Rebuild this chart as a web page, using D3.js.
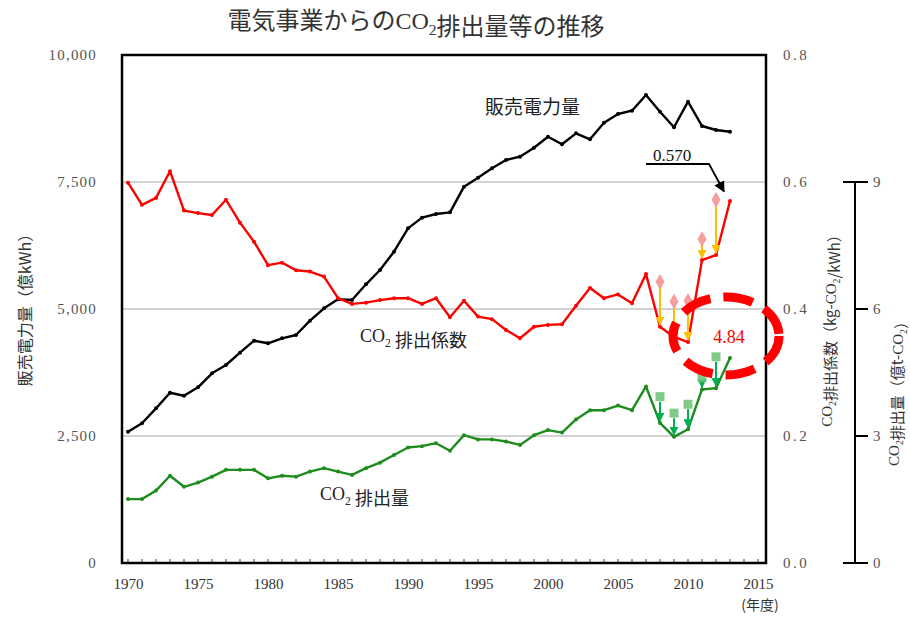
<!DOCTYPE html>
<html>
<head>
<meta charset="utf-8">
<script src="https://cdn.jsdelivr.net/npm/d3@7"></script>
<style>
  body { margin: 0; background: #fff; }
  text { font-family: "Liberation Serif", serif; }
  .jp { font-family: "Noto Sans CJK JP", sans-serif; }
</style>
</head>
<body>
<div id="chart"></div>
<script>
// data
var years = d3.range(1970, 2014);
var sales = [2585, 2750, 3045, 3352, 3293, 3459, 3734, 3898, 4140, 4376,
    4325, 4423, 4488, 4770, 5014, 5191, 5177, 5486, 5768, 6128,
    6588, 6798, 6870, 6903, 7408, 7585, 7770, 7933, 7998, 8175,
    8392, 8242, 8458, 8340, 8667, 8838, 8904, 9213, 8884, 8577,
    9081, 8602, 8524, 8490];
var coef = [0.599, 0.564, 0.575, 0.617, 0.555, 0.551, 0.548, 0.572, 0.536, 0.506,
    0.469, 0.473, 0.461, 0.459, 0.451, 0.417, 0.408, 0.410, 0.414, 0.417,
    0.417, 0.408, 0.417, 0.387, 0.413, 0.388, 0.384, 0.367, 0.354, 0.372,
    0.375, 0.376, 0.405, 0.433, 0.417, 0.423, 0.409, 0.455, 0.372, 0.356,
    0.348, 0.477, 0.485, 0.570];
var emis = [1.51, 1.51, 1.71, 2.06, 1.80, 1.90, 2.04, 2.20, 2.20, 2.20,
    2.00, 2.06, 2.04, 2.16, 2.24, 2.16, 2.08, 2.24, 2.37, 2.55,
    2.73, 2.76, 2.83, 2.65, 3.02, 2.92, 2.92, 2.87, 2.79, 3.02,
    3.14, 3.08, 3.39, 3.61, 3.61, 3.72, 3.61, 4.17, 3.31, 2.98,
    3.16, 4.10, 4.13, 4.84];
// values before credits (markers with arrows)
var creditYears = [2008, 2009, 2010, 2011, 2012];
var coefBefore = [0.443, 0.412, 0.413, 0.510, 0.572];
var emisBefore = [3.93, 3.54, 3.75, 4.38, 4.87];

var leftTicks = [0, 2500, 5000, 7500, 10000];
var rightTicks = [0, 0.2, 0.4, 0.6, 0.8];
var emisTicks = [0, 3, 6, 9];
var xLabelYears = d3.range(1970, 2016, 5);

var width = 910, height = 617;
var plot = { left: 122, right: 766, top: 55, bottom: 563 };

var svg = d3.select("#chart")
    .append("svg")
    .attr("width", width)
    .attr("height", height);

var x = d3.scaleLinear().domain([1970, 2015]).range([128, 758]);
var yL = d3.scaleLinear().domain([0, 10000]).range([plot.bottom, plot.top]);
var yR = d3.scaleLinear().domain([0, 0.8]).range([plot.bottom, plot.top]);
var yE = d3.scaleLinear().domain([0, 12]).range([plot.bottom, plot.top]);

var defs = svg.append("defs");
function arrowMarker(id, color, size) {
    defs.append("marker")
        .attr("id", id)
        .attr("viewBox", "0 0 10 10")
        .attr("refX", 9).attr("refY", 5)
        .attr("markerWidth", size).attr("markerHeight", size)
        .attr("markerUnits", "userSpaceOnUse")
        .attr("orient", "auto")
        .append("path")
        .attr("d", "M0,0 L10,5 L0,10 Z")
        .attr("fill", color);
}
arrowMarker("arrOrange", "#ffc000", 9);
arrowMarker("arrGreen", "#00b050", 9);
arrowMarker("arrBlack", "#000", 11);

// gridlines
svg.append("g")
    .selectAll("line")
    .data([2500, 5000, 7500])
    .enter()
    .append("line")
    .attr("x1", plot.left).attr("x2", plot.right)
    .attr("y1", function (d) { return yL(d); })
    .attr("y2", function (d) { return yL(d); })
    .attr("stroke", "#a6a6a6")
    .attr("stroke-width", 1.2);

// left axis
var gL = svg.append("g")
    .attr("transform", "translate(" + (plot.left - 22) + ",0)")
    .call(d3.axisLeft(yL).tickValues(leftTicks).tickSize(0)
        .tickFormat(d3.format(",")));
gL.select(".domain").remove();
gL.selectAll("text")
    .attr("font-size", 15)
    .attr("letter-spacing", 1.2)
    .attr("fill", "#555");

// right axis
var gR = svg.append("g")
    .attr("transform", "translate(" + (plot.right + 14) + ",0)")
    .call(d3.axisRight(yR).tickValues(rightTicks).tickSize(0)
        .tickFormat(d3.format(".1f")));
gR.select(".domain").remove();
gR.selectAll("text")
    .attr("font-size", 15)
    .attr("letter-spacing", 2.5)
    .attr("fill", "#555");

// x axis: labels every 5 years, minor ticks every year
var gX = svg.append("g")
    .attr("transform", "translate(0," + plot.bottom + ")")
    .call(d3.axisBottom(x).tickValues(xLabelYears).tickSize(0).tickPadding(15)
        .tickFormat(d3.format("d")));
gX.select(".domain").remove();
gX.selectAll("text")
    .attr("font-size", 15)
    .attr("fill", "#333");
svg.append("g")
    .selectAll("line")
    .data(d3.range(1970, 2016))
    .enter()
    .append("line")
    .attr("x1", function (d) { return x(d); })
    .attr("x2", function (d) { return x(d); })
    .attr("y1", plot.bottom).attr("y2", plot.bottom - 4)
    .attr("stroke", "#444").attr("stroke-width", 1);
svg.append("text")
    .attr("class", "jp")
    .attr("x", 760).attr("y", 610)
    .attr("text-anchor", "middle")
    .attr("font-size", 14)
    .attr("fill", "#333")
    .text("(年度)");

// third axis (CO2 emissions)
var eAxisX = 855;
svg.append("line")
    .attr("x1", eAxisX).attr("x2", eAxisX)
    .attr("y1", yE(9)).attr("y2", yE(0))
    .attr("stroke", "#000").attr("stroke-width", 2);
svg.append("g")
    .selectAll("line")
    .data(emisTicks)
    .enter()
    .append("line")
    .attr("x1", function (d) { return (d == 0 || d == 9) ? eAxisX - 12 : eAxisX; })
    .attr("x2", eAxisX + 13)
    .attr("y1", function (d) { return yE(d); })
    .attr("y2", function (d) { return yE(d); })
    .attr("stroke", "#000").attr("stroke-width", 2);
svg.append("g")
    .selectAll("text")
    .data(emisTicks)
    .enter()
    .append("text")
    .attr("x", eAxisX + 18)
    .attr("y", function (d) { return yE(d) + 5; })
    .attr("font-size", 15)
    .attr("fill", "#555")
    .text(function (d) { return d; });

// text with CO2 subscript
function co2Text(g, parts, size) {
    var t = g.append("text").attr("font-size", size).attr("fill", "#222");
    parts.forEach(function (p) {
        if (p == "CO2") {
            t.append("tspan").text("CO");
            t.append("tspan").attr("font-size", size * 0.65).attr("dy", size * 0.25).text("2");
            t.append("tspan").attr("dy", -size * 0.25).text("");
        } else {
            t.append("tspan").attr("class", "jp").text(p);
        }
    });
    return t;
}

// title
co2Text(svg, ["電気事業からの", "CO2", "排出量等の推移"], 24)
    .attr("x", 416).attr("y", 29)
    .attr("text-anchor", "middle")
    .attr("fill", "#333");

// axis titles
co2Text(svg, ["販売電力量（億kWh）"], 16)
    .attr("text-anchor", "middle")
    .attr("fill", "#333")
    .attr("transform", "translate(31,306) rotate(-90)");
co2Text(svg, ["CO2", "排出係数（kg-", "CO2", "/kWh）"], 15)
    .attr("text-anchor", "middle")
    .attr("fill", "#333")
    .attr("transform", "translate(832,327) rotate(-90)");
co2Text(svg, ["CO2", "排出量（億t-", "CO2", "）"], 15)
    .attr("text-anchor", "middle")
    .attr("fill", "#333")
    .attr("transform", "translate(899,390) rotate(-90)");

// lines
function drawSeries(values, yScale, color) {
    var pts = years.map(function (yr, i) { return [yr, values[i]]; });
    var line = d3.line()
        .x(function (d) { return x(d[0]); })
        .y(function (d) { return yScale(d[1]); });
    svg.append("path")
        .datum(pts)
        .attr("d", line)
        .attr("fill", "none")
        .attr("stroke", color)
        .attr("stroke-width", 2.4)
        .attr("stroke-linejoin", "round");
    svg.append("g")
        .selectAll("circle")
        .data(pts)
        .enter()
        .append("circle")
        .attr("cx", function (d) { return x(d[0]); })
        .attr("cy", function (d) { return yScale(d[1]); })
        .attr("r", 2)
        .attr("fill", color);
}
drawSeries(sales, yL, "#000");
drawSeries(coef, yR, "#ff0000");
drawSeries(emis, yE, "#1e8c1e");

// before-credit markers with arrows
creditYears.forEach(function (yr, i) {
    var idx = years.indexOf(yr);
    svg.append("line")
        .attr("x1", x(yr)).attr("x2", x(yr))
        .attr("y1", yR(coefBefore[i]) + 5)
        .attr("y2", yR(coef[idx]) - 2)
        .attr("stroke", "#ffc000").attr("stroke-width", 2)
        .attr("marker-end", "url(#arrOrange)");
    svg.append("path")
        .attr("d", d3.symbol().type(d3.symbolDiamond).size(70)())
        .attr("transform", "translate(" + x(yr) + "," + yR(coefBefore[i]) + ")")
        .attr("fill", "#f48c8c")
        .attr("opacity", 0.85);

    svg.append("line")
        .attr("x1", x(yr)).attr("x2", x(yr))
        .attr("y1", yE(emisBefore[i]) + 5)
        .attr("y2", yE(emis[idx]) - 2)
        .attr("stroke", "#00b050").attr("stroke-width", 2)
        .attr("marker-end", "url(#arrGreen)");
    svg.append("rect")
        .attr("x", x(yr) - 4.5).attr("y", yE(emisBefore[i]) - 4.5)
        .attr("width", 9).attr("height", 9)
        .attr("fill", "#6fbf73")
        .attr("opacity", 0.85);
});

// frame
svg.append("rect")
    .attr("x", plot.left).attr("y", plot.top)
    .attr("width", plot.right - plot.left)
    .attr("height", plot.bottom - plot.top)
    .attr("fill", "none")
    .attr("stroke", "#000")
    .attr("stroke-width", 2.5);

// series labels
co2Text(svg, ["販売電力量"], 19).attr("x", 485).attr("y", 114);
co2Text(svg, ["CO2", " 排出係数"], 18).attr("x", 360).attr("y", 342);
co2Text(svg, ["CO2", " 排出量"], 18).attr("x", 320).attr("y", 500);

// 0.570 callout
var lastYear = years[years.length - 1];
svg.append("text")
    .attr("x", 653).attr("y", 161)
    .attr("font-size", 17)
    .attr("fill", "#111")
    .text(d3.format(".3f")(coef[coef.length - 1]));
svg.append("path")
    .attr("d", "M646,164 L709,164 L" + (x(lastYear) - 6) + "," + (yR(0.585)))
    .attr("fill", "none")
    .attr("stroke", "#000")
    .attr("stroke-width", 1.8)
    .attr("marker-end", "url(#arrBlack)");

// 4.84 highlight
svg.append("ellipse")
    .attr("cx", 726).attr("cy", 336)
    .attr("rx", 53).attr("ry", 39)
    .attr("fill", "none")
    .attr("stroke", "#ff0000")
    .attr("stroke-width", 9)
    .attr("stroke-dasharray", "30 13");
svg.append("text")
    .attr("x", 729).attr("y", 343)
    .attr("text-anchor", "middle")
    .attr("font-size", 18)
    .attr("fill", "#ff0000")
    .text(d3.format(".2f")(emis[emis.length - 1]));
</script>
</body>
</html>
